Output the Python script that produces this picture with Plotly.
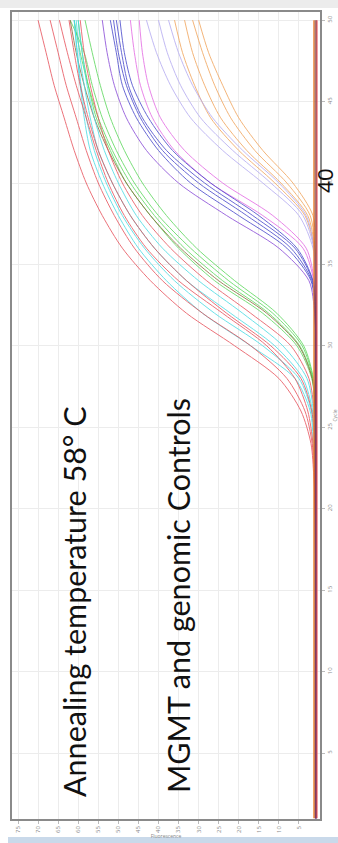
import plotly.graph_objects as go

CYCLES = [1, 5, 10, 15, 18, 20, 22, 24, 26, 28, 30, 32, 34, 36, 38, 40, 42, 44, 46, 48, 50]

# Fluorescence values per curve (one list per well), grouped by colour
red_curves = [
    [0.8, 0.8, 0.8, 0.8, 0.9, 1.0, 1.3, 2.0, 4.5, 10, 21, 33, 42, 49, 54, 58, 61, 63.5, 66, 68, 70],
    [0.8, 0.8, 0.8, 0.8, 0.9, 1.0, 1.2, 1.7, 3.5, 8, 17, 29, 39, 46, 51, 55, 58, 60.5, 63, 65, 67],
    [0.8, 0.8, 0.8, 0.8, 0.8, 0.9, 1.1, 1.5, 2.8, 6, 13, 24, 35, 43, 48.5, 52.5, 55.5, 58, 60.5, 62.7, 64.7],
    [0.8, 0.8, 0.8, 0.8, 0.8, 0.8, 0.9, 1.1, 1.8, 4.5, 12, 23, 33, 41, 47, 51.5, 55, 57.5, 59.5, 61, 62.3],
    [0.8, 0.8, 0.8, 0.8, 0.8, 0.8, 0.8, 0.9, 1.2, 2.5, 7, 17, 28, 37, 44, 49, 52.5, 55, 57, 58.5, 59.5],
]
cyan_curves = [
    [0.8, 0.8, 0.8, 0.8, 0.8, 0.8, 1.0, 1.4, 2.2, 6, 17, 29, 38, 45, 50, 54, 57, 58.5, 59.5, 60.3, 61],
    [0.8, 0.8, 0.8, 0.8, 0.8, 0.8, 0.9, 1.2, 1.9, 5, 14, 26, 36, 43.5, 49, 53, 56, 58, 59.3, 60.2, 61],
    [0.8, 0.8, 0.8, 0.8, 0.8, 0.8, 0.9, 1.1, 1.6, 4, 11, 22, 33, 41, 47, 51.5, 55, 57, 58.5, 59.7, 60.5],
    [0.8, 0.8, 0.8, 0.8, 0.8, 0.8, 0.8, 1.0, 1.4, 3, 9, 19, 30, 39, 45.5, 50, 53.5, 56, 57.8, 59, 60],
]
green_curves = [
    [0.8, 0.8, 0.8, 0.8, 0.8, 0.8, 0.8, 0.8, 1.0, 1.8, 5.5, 14, 26, 35, 42, 48, 52, 55.5, 57.5, 59, 60],
    [0.8, 0.8, 0.8, 0.8, 0.8, 0.8, 0.8, 0.8, 1.0, 1.6, 4.8, 12.5, 24, 33.5, 41, 47, 51.5, 55, 57.5, 59.5, 61],
    [0.8, 0.8, 0.8, 0.8, 0.8, 0.8, 0.8, 0.8, 0.9, 1.5, 4.2, 11.5, 22.5, 32, 40, 46, 50.5, 54, 56.5, 58.5, 62],
    [0.8, 0.8, 0.8, 0.8, 0.8, 0.8, 0.8, 0.8, 0.9, 1.4, 3.8, 10.5, 21, 30.5, 38, 44, 48.5, 52, 54.5, 56.5, 58.3],
]
brown_curves = [
    [0.8, 0.8, 0.8, 0.8, 0.8, 0.8, 0.8, 0.8, 1.0, 1.7, 5, 13, 25, 34.5, 42, 48, 52.5, 56, 58.5, 60.5, 62],
]
purple_curves = [
    [0.8, 0.8, 0.8, 0.8, 0.8, 0.8, 0.8, 0.8, 0.8, 0.8, 0.8, 1.1, 2.5, 10, 23, 35, 43, 48, 51, 52.8, 54],
]
blue_curves = [
    [0.8, 0.8, 0.8, 0.8, 0.8, 0.8, 0.8, 0.8, 0.8, 0.8, 0.8, 1.0, 2.0, 8, 20, 32, 40, 45.5, 49, 50.5, 52],
    [0.8, 0.8, 0.8, 0.8, 0.8, 0.8, 0.8, 0.8, 0.8, 0.8, 0.8, 1.0, 1.8, 7, 18, 30, 39, 44.5, 48, 50, 51.2],
    [0.8, 0.8, 0.8, 0.8, 0.8, 0.8, 0.8, 0.8, 0.8, 0.8, 0.8, 0.9, 1.6, 6, 16.5, 28.5, 38, 44, 47.5, 49.2, 50.5],
    [0.8, 0.8, 0.8, 0.8, 0.8, 0.8, 0.8, 0.8, 0.8, 0.8, 0.8, 0.9, 1.5, 5.5, 15, 27, 36.5, 42.5, 46.5, 48.5, 49.6],
]
magenta_curves = [
    [0.8, 0.8, 0.8, 0.8, 0.8, 0.8, 0.8, 0.8, 0.8, 0.8, 0.8, 0.8, 1.3, 4, 14, 27, 36, 41.5, 44.5, 46, 47],
    [0.8, 0.8, 0.8, 0.8, 0.8, 0.8, 0.8, 0.8, 0.8, 0.8, 0.8, 0.8, 1.2, 3.2, 11.5, 24, 33.5, 39.5, 42.5, 44, 44.8],
]
lavender_curves = [
    [0.8, 0.8, 0.8, 0.8, 0.8, 0.8, 0.8, 0.8, 0.8, 0.8, 0.8, 0.8, 0.8, 1.5, 5, 14, 24, 32, 37, 40.5, 43],
    [0.8, 0.8, 0.8, 0.8, 0.8, 0.8, 0.8, 0.8, 0.8, 0.8, 0.8, 0.8, 0.8, 1.3, 4, 12, 21.5, 29.5, 34.5, 37.8, 40],
    [0.8, 0.8, 0.8, 0.8, 0.8, 0.8, 0.8, 0.8, 0.8, 0.8, 0.8, 0.8, 0.8, 1.2, 3.2, 10, 19, 26.5, 31.5, 35, 37.5],
]
orange_curves = [
    [0.9, 0.9, 0.9, 0.9, 0.9, 0.9, 0.9, 0.9, 0.9, 0.9, 0.9, 0.9, 0.9, 1.2, 3.5, 11, 20, 27, 31, 34, 36],
    [0.9, 0.9, 0.9, 0.9, 0.9, 0.9, 0.9, 0.9, 0.9, 0.9, 0.9, 0.9, 0.9, 1.1, 2.8, 9.5, 18, 24.5, 28.5, 31.5, 33.5],
    [0.9, 0.9, 0.9, 0.9, 0.9, 0.9, 0.9, 0.9, 0.9, 0.9, 0.9, 0.9, 0.9, 1.05, 2.2, 8, 16, 22, 26, 29, 31.5],
    [0.9, 0.9, 0.9, 0.9, 0.9, 0.9, 0.9, 0.9, 0.9, 0.9, 0.9, 0.9, 0.9, 1.0, 1.5, 6.5, 14, 20, 24, 27.5, 30],
]
ntc_curves = [
    [1.3, 1.3, 1.3, 1.3, 1.3, 1.3, 1.3, 1.3, 1.3, 1.3, 1.3, 1.3, 1.3, 1.3, 1.3, 1.3, 1.3, 1.3, 1.3, 1.3, 1.3],
    [1.0, 1.0, 1.0, 1.0, 1.0, 1.0, 1.0, 1.0, 1.0, 1.0, 1.0, 1.0, 1.0, 1.0, 1.0, 1.0, 1.0, 1.0, 1.0, 1.0, 1.0],
    [0.7, 0.7, 0.7, 0.7, 0.7, 0.7, 0.7, 0.7, 0.7, 0.7, 0.7, 0.7, 0.7, 0.7, 0.7, 0.7, 0.7, 0.7, 0.7, 0.7, 0.7],
    [0.5, 0.5, 0.5, 0.5, 0.5, 0.5, 0.5, 0.5, 0.5, 0.5, 0.5, 0.5, 0.5, 0.5, 0.5, 0.5, 0.5, 0.5, 0.5, 0.5, 0.5],
]
ntc_colors = ["#f08a3a", "#b05020", "#5a2a4a", "#e85050"]

FLUOR_TICKS = [5, 10, 15, 20, 25, 30, 35, 40, 45, 50, 55, 60, 65, 70, 75]
CYCLE_TICKS = [5, 10, 15, 20, 25, 30, 35, 40, 45, 50]

groups = [
    (green_curves, "#5ad85a"),
    (brown_curves, "#8a6a3a"),
    (cyan_curves, "#48dce4"),
    (red_curves, "#e8505a"),
    (orange_curves, "#f2a45a"),
    (lavender_curves, "#b4aaf2"),
    (magenta_curves, "#e468e4"),
    (blue_curves, "#4646cc"),
    (purple_curves, "#8848d8"),
]

fig = go.Figure()
for curves, color in groups:
    for vals in curves:
        fig.add_trace(go.Scatter(
            x=vals, y=CYCLES, mode="lines",
            line=dict(color=color, width=1, shape="spline", smoothing=0.8),
            opacity=0.8, hoverinfo="skip", showlegend=False))
for vals, color in zip(ntc_curves, ntc_colors):
    fig.add_trace(go.Scatter(
        x=vals, y=CYCLES, mode="lines",
        line=dict(color=color, width=1.1), hoverinfo="skip", showlegend=False))

W, H = 338, 843
L, R, T, B = 12, 18, 12, 24
pw, ph = W - L - R, H - T - B

def px(xp):
    return (xp - L) / pw

def py(yp):
    return (H - B - yp) / ph

big_font = dict(family="Lato, Liberation Sans, sans-serif", size=30.5, color="#111111")

fig.update_layout(
    width=W, height=H,
    margin=dict(l=L, r=R, t=T, b=B, autoexpand=False),
    paper_bgcolor="white", plot_bgcolor="white",
    xaxis=dict(
        range=[76.5, -0.25], tickvals=FLUOR_TICKS, ticktext=[str(v) for v in FLUOR_TICKS],
        tickangle=-90, tickfont=dict(size=6, color="#888888"),
        showgrid=True, gridcolor="#ececec", gridwidth=1,
        showline=True, linecolor="#8a8a8a", linewidth=1.5, mirror=True,
        ticks="outside", ticklen=3, tickcolor="#bbbbbb",
        zeroline=False, automargin=False,
        title=dict(text="Fluorescence", font=dict(size=5, color="#888888"), standoff=2),
    ),
    yaxis=dict(
        range=[0.95, 50.5], tickvals=CYCLE_TICKS, ticktext=[str(v) for v in CYCLE_TICKS],
        side="right", tickangle=-90, tickfont=dict(size=6, color="#888888"),
        showgrid=True, gridcolor="#ececec", gridwidth=1,
        showline=True, linecolor="#8a8a8a", linewidth=1.5, mirror=True,
        ticks="outside", ticklen=3, tickcolor="#bbbbbb",
        zeroline=False, automargin=False,
        title=dict(text="Cycle", font=dict(size=5, color="#888888"), standoff=4),
    ),
    annotations=[
        dict(text="Annealing temperature 58° C", xref="paper", yref="paper",
             x=px(74), y=py(602), xanchor="center", yanchor="middle",
             textangle=-90, showarrow=False, font=big_font),
        dict(text="MGMT and genomic Controls", xref="paper", yref="paper",
             x=px(178), y=py(596), xanchor="center", yanchor="middle",
             textangle=-90, showarrow=False, font=big_font),
        dict(text="40", xref="paper", yref="paper",
             x=px(325), y=py(181), xanchor="center", yanchor="middle",
             textangle=-90, showarrow=False, borderpad=0,
             font=dict(family="Liberation Sans, sans-serif", size=22, color="#111111")),
    ],
    shapes=[
        dict(type="rect", xref="paper", yref="paper",
             x0=px(8), x1=px(338), y0=py(843), y1=py(837),
             fillcolor="#c9d9ea", line=dict(width=0), layer="above"),
        dict(type="rect", xref="paper", yref="paper",
             x0=px(0), x1=px(338), y0=py(8), y1=py(0),
             fillcolor="#ececec", line=dict(width=0), layer="above"),
    ],
)

fig.write_html("out.html")
